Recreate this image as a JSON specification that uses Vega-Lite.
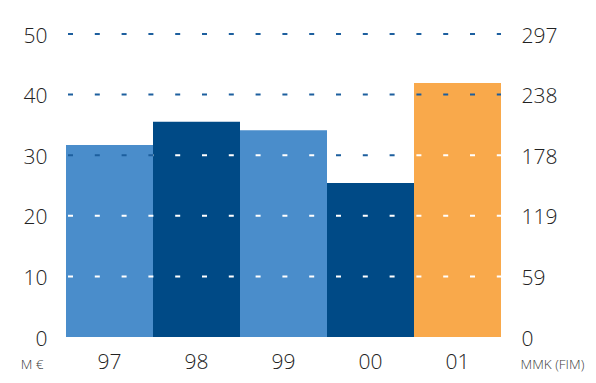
{
  "$schema": "https://vega.github.io/schema/vega-lite/v6.json",
  "width": 435,
  "height": 303,
  "autosize": {"type": "none"},
  "padding": {"left": 66, "top": 34, "right": 95, "bottom": 46},
  "background": "#ffffff",
  "config": {
    "view": {"stroke": null},
    "axis": {
      "domain": false,
      "ticks": false,
      "tickSize": 0,
      "grid": false,
      "labelFont": "Open Sans",
      "labelFontSize": 21,
      "labelFontWeight": 300,
      "labelColor": "#222222",
      "titleFont": "Open Sans",
      "titleFontSize": 13.5,
      "titleFontWeight": 300,
      "titleColor": "#3a3a3a"
    }
  },
  "datasets": {
    "amounts": [
      {"year": "97", "meur": 31.7},
      {"year": "98", "meur": 35.5},
      {"year": "99", "meur": 34.1},
      {"year": "00", "meur": 25.4},
      {"year": "01", "meur": 41.9}
    ],
    "dashes": [
      {"year": "97", "level": 10, "tone": "white"},
      {"year": "97", "level": 20, "tone": "white"},
      {"year": "97", "level": 30, "tone": "blue"},
      {"year": "97", "level": 40, "tone": "blue"},
      {"year": "97", "level": 50, "tone": "blue"},
      {"year": "98", "level": 10, "tone": "white"},
      {"year": "98", "level": 20, "tone": "white"},
      {"year": "98", "level": 30, "tone": "white"},
      {"year": "98", "level": 40, "tone": "blue"},
      {"year": "98", "level": 50, "tone": "blue"},
      {"year": "99", "level": 10, "tone": "white"},
      {"year": "99", "level": 20, "tone": "white"},
      {"year": "99", "level": 30, "tone": "white"},
      {"year": "99", "level": 40, "tone": "blue"},
      {"year": "99", "level": 50, "tone": "blue"},
      {"year": "00", "level": 10, "tone": "white"},
      {"year": "00", "level": 20, "tone": "white"},
      {"year": "00", "level": 30, "tone": "blue"},
      {"year": "00", "level": 40, "tone": "blue"},
      {"year": "00", "level": 50, "tone": "blue"},
      {"year": "01", "level": 10, "tone": "white"},
      {"year": "01", "level": 20, "tone": "white"},
      {"year": "01", "level": 30, "tone": "white"},
      {"year": "01", "level": 40, "tone": "blue"},
      {"year": "01", "level": 50, "tone": "blue"}
    ]
  },
  "layer": [
    {
      "data": {"name": "amounts"},
      "mark": {"type": "bar"},
      "encoding": {
        "x": {
          "field": "year",
          "type": "nominal",
          "title": null,
          "scale": {"domain": ["97", "98", "99", "00", "01"], "paddingInner": 0, "paddingOuter": 0},
          "axis": {"labelAngle": 0, "labelBaseline": "alphabetic", "labelPadding": 31}
        },
        "y": {
          "field": "meur",
          "type": "quantitative",
          "scale": {"domain": [0, 50]},
          "axis": {
            "orient": "left",
            "values": [0, 10, 20, 30, 40, 50],
            "labelBaseline": "alphabetic",
            "labelOffset": 8,
            "labelPadding": 19,
            "title": "M €",
            "titleAngle": 0,
            "titleX": -23,
            "titleY": 334,
            "titleAlign": "right",
            "titleBaseline": "alphabetic"
          }
        },
        "color": {
          "field": "year",
          "type": "nominal",
          "scale": {
            "domain": ["97", "98", "99", "00", "01"],
            "range": ["#4a8dcb", "#004a86", "#4a8dcb", "#004a86", "#f9a94b"]
          },
          "legend": null
        }
      }
    },
    {
      "data": {"name": "dashes"},
      "mark": {"type": "rule", "strokeWidth": 2, "strokeCap": "butt"},
      "encoding": {
        "x": {"field": "year", "type": "nominal", "bandPosition": 0, "title": null},
        "x2": {"field": "year", "bandPosition": 1},
        "y": {
          "field": "level",
          "type": "quantitative",
          "scale": {"domain": [0, 50]},
          "axis": {
            "orient": "right",
            "values": [0, 10, 20, 30, 40, 50],
            "labelExpr": "format(datum.value * 5.94573, '.0f')",
            "labelBaseline": "alphabetic",
            "labelOffset": 8,
            "labelPadding": 20,
            "title": "MMK (FIM)",
            "titleAngle": 0,
            "titleX": 19,
            "titleY": 334,
            "titleAlign": "left",
            "titleBaseline": "alphabetic"
          }
        },
        "stroke": {
          "field": "tone",
          "type": "nominal",
          "scale": {"domain": ["blue", "white"], "range": ["#1d5f9e", "#ffffff"]},
          "legend": null
        },
        "strokeDash": {
          "field": "year",
          "type": "nominal",
          "scale": {
            "domain": ["97", "98", "99", "00", "01"],
            "range": [[0, 2, 5, 19.8], [0.4, 21.8, 4.6, 0], [0, 15.6, 5, 6.2], [0, 9, 5, 12.8], [0, 2.4, 5, 19.4]]
          },
          "legend": null
        }
      }
    }
  ],
  "resolve": {"scale": {"y": "independent"}}
}
